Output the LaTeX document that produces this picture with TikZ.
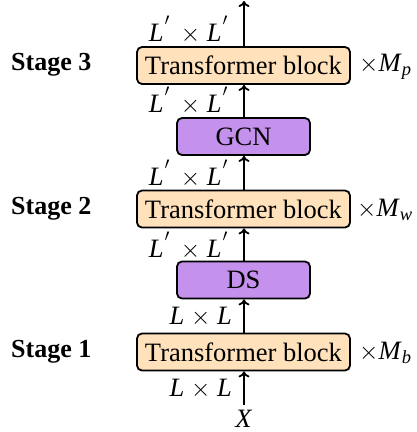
\documentclass[tikz,border=0pt]{standalone}
\usepackage{fontspec}
\setmainfont{Liberation Serif}
\usetikzlibrary{arrows.meta}
\definecolor{tfill}{RGB}{255,225,187}
\definecolor{pfill}{RGB}{196,145,236}
\newcommand{\dimL}{\textit{L}}
\newcommand{\dimLp}{\textit{L}\hspace{1pt}\raisebox{0.55ex}{$^{\prime}$}}
\begin{document}
\begin{tikzpicture}[x=1pt,y=-1pt,
  font=\fontsize{26.5}{30}\selectfont,
  tblock/.style={draw, line width=1.8pt, rounded corners=5pt, fill=tfill,
    minimum width=213pt, minimum height=37pt, inner sep=0pt},
  opblock/.style={draw, line width=1.8pt, rounded corners=5pt, fill=pfill,
    minimum width=133pt, minimum height=37pt, inner sep=0pt},
  flow/.style={line width=1.8pt, -{To[length=6pt,width=11pt]}},
  dimlabel/.style={anchor=east, inner sep=0pt},
  stagelabel/.style={anchor=west, inner sep=0pt, font=\fontsize{26}{30}\selectfont\bfseries},
  mult/.style={anchor=west, inner sep=0pt}]
  \useasboundingbox (0,0) rectangle (416,432);

  % blocks, bottom to top
  \node[tblock] (tb1) at (243.5,352) {Transformer block};
  \node[opblock] (ds) at (243.5,280) {DS};
  \node[tblock] (tb2) at (243.5,209) {Transformer block};
  \node[opblock] (gcn) at (243.5,136.5) {GCN};
  \node[tblock] (tb3) at (243.5,65.5) {Transformer block};

  % input and output ends
  \node[anchor=base, inner sep=0pt, text depth=0pt] (x) at (244,427) {\textit{X}};
  \coordinate (out) at (244,1);

  % connectors
  \draw[flow] (244,405) -- (tb1.south -| 244,0);
  \draw[flow] (tb1.north -| 244,0) -- (ds.south -| 244,0);
  \draw[flow] (ds.north -| 244,0) -- (tb2.south -| 244,0);
  \draw[flow] (tb2.north -| 244,0) -- (gcn.south -| 244,0);
  \draw[flow] (gcn.north -| 244,0) -- (tb3.south -| 244,0);
  \draw[flow] (tb3.north -| 244,0) -- (out);

  % tensor sizes
  \node[dimlabel] (d1) at (232,389) {\dimL\ $\times$ \dimL};
  \node[dimlabel] (d2) at (232,317) {\dimL\ $\times$ \dimL};
  \node[dimlabel] (d3) at (228,246) {\dimLp\ \,$\times$ \dimLp};
  \node[dimlabel] (d4) at (228,174) {\dimLp\ \,$\times$ \dimLp};
  \node[dimlabel] (d5) at (228,101) {\dimLp\ \,$\times$ \dimLp};
  \node[dimlabel] (d6) at (228,30) {\dimLp\ \,$\times$ \dimLp};

  % repetition counts
  \node[mult] (m1) at (359,353) {$\times$\textit{M}\textsubscript{\textit{b}}};
  \node[mult] (m2) at (357,210) {$\times$\textit{M}\textsubscript{\textit{w}}};
  \node[mult] (m3) at (359,67) {$\times$\textit{M}\textsubscript{\textit{p}}};

  % stage names
  \node[stagelabel] (s1) at (11,352) {Stage 1};
  \node[stagelabel] (s2) at (11,209) {Stage 2};
  \node[stagelabel] (s3) at (11,65) {Stage 3};
\end{tikzpicture}
\end{document}
